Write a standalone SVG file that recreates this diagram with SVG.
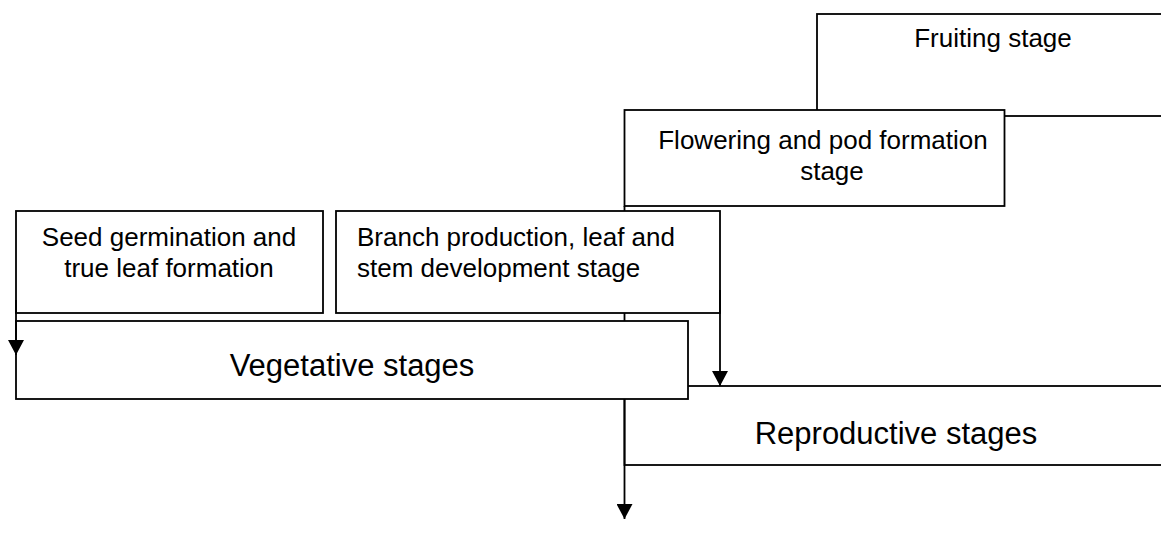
<svg xmlns="http://www.w3.org/2000/svg" width="1161" height="534" viewBox="0 0 1161 534">
<style>
.box{fill:#fff;stroke:#000;stroke-width:1.8}
.ln{fill:none;stroke:#000;stroke-width:1.8}
.t{font-family:"Liberation Sans",Arial,sans-serif;font-size:26px;fill:#000}
.big{font-family:"Liberation Sans",Arial,sans-serif;font-size:31px;fill:#000}
.c{text-anchor:middle}
</style>
<defs>
<marker id="ah" markerUnits="userSpaceOnUse" markerWidth="16" markerHeight="16" viewBox="0 0 16 16" refX="15" refY="8" orient="auto">
<path d="M0,0 L15,8 L0,16 z" fill="#000"/>
</marker>
</defs>
<g id="fruiting">
<rect class="box" x="817" y="14" width="400" height="102"/>
<text class="t c" x="993" y="47">Fruiting stage</text>
</g>
<g id="flowering">
<rect class="box" x="624.5" y="110" width="380" height="96"/>
<text class="t c" x="823" y="149">Flowering and pod formation</text>
<text class="t c" x="832" y="180">stage</text>
</g>
<g id="reproductive">
<rect class="box" x="624.5" y="386" width="600" height="79"/>
<text class="big c" x="896" y="444">Reproductive stages</text>
</g>
<g id="connectors-back">
<path class="ln" d="M624.5,206 V519" marker-end="url(#ah)"/>
</g>
<g id="seed">
<rect class="box" x="16" y="211" width="307" height="102"/>
<text class="t c" x="169" y="246">Seed germination and</text>
<text class="t c" x="169" y="277">true leaf formation</text>
</g>
<g id="branch">
<rect class="box" x="336" y="211" width="384" height="102"/>
<text class="t" x="357" y="246">Branch production, leaf and</text>
<text class="t" x="357" y="277">stem development stage</text>
</g>
<g id="vegetative">
<rect class="box" x="16" y="321" width="672" height="78"/>
<text class="big c" x="352" y="376">Vegetative stages</text>
</g>
<g id="connectors">
<path class="ln" d="M16,300 V355" marker-end="url(#ah)"/>
<path class="ln" d="M720,290 V386" marker-end="url(#ah)"/>
</g>
</svg>
